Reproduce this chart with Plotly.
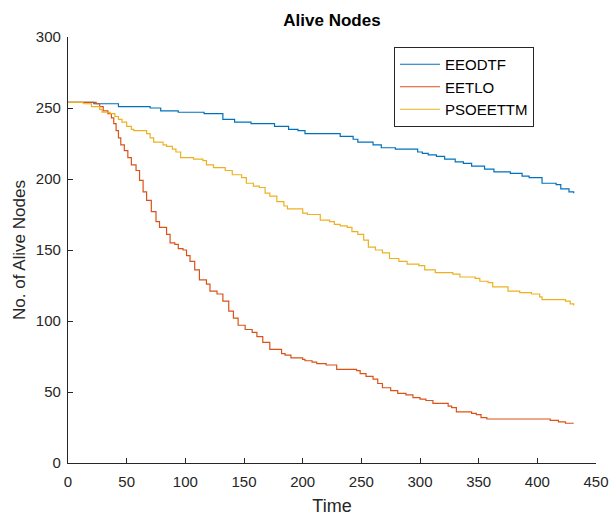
import plotly.graph_objects as go

# EEODTF (blue) - step breakpoints (time, alive nodes)
eeodtf_t = [0, 22, 43, 70, 79, 94, 116, 132, 142, 156, 176, 188, 196, 202, 232, 243, 247, 260, 267, 279,
            298, 302, 307, 314, 321, 330, 337, 344, 355, 363, 377, 387, 393, 404, 416, 420, 427, 431]
eeodtf_v = [254, 253, 251, 250, 248, 247, 246, 242, 240, 239, 237, 235, 234, 232, 230, 228, 226, 224, 222, 221,
            219, 218, 217, 216, 214, 212, 211, 209, 207, 205, 204, 202, 201, 197, 196, 193, 191, 190]

# EETLO (orange)
eetlo_t = [0, 24, 27, 30, 34, 37, 39, 41, 43, 45, 48, 51, 54, 58, 61, 64, 67, 71, 75, 78, 84, 87, 91, 94, 98,
           101, 104, 108, 112, 118, 121, 127, 132, 137, 141, 145, 151, 157, 161, 166, 172, 182, 185, 190, 200,
           202, 208, 212, 220, 229, 246, 249, 254, 260, 264, 268, 275, 281, 288, 294, 300, 305, 311, 324, 327,
           331, 344, 348, 352, 357, 411, 418, 424, 431]
eetlo_v = [254, 253, 251, 248, 246, 243, 239, 234, 229, 224, 220, 215, 210, 206, 199, 191, 185, 177, 170, 166,
           161, 155, 154, 151, 150, 146, 142, 136, 129, 126, 121, 119, 114, 107, 102, 97, 94, 92, 89, 85, 80,
           77, 76, 74, 73, 72, 71, 70, 69, 66, 65, 63, 61, 59, 56, 53, 51, 49, 48, 46, 45, 44, 42, 40, 39, 36,
           35, 34, 32, 31, 30, 29, 28, 28]

# PSOEETTM (yellow)
pso_t = [0, 13, 20, 27, 29, 36, 40, 43, 46, 50, 54, 56, 67, 70, 73, 81, 84, 89, 92, 96, 107, 115, 118, 124,
         134, 140, 148, 152, 158, 163, 168, 172, 178, 184, 187, 200, 204, 215, 223, 227, 232, 238, 242, 247,
         252, 256, 262, 268, 274, 282, 289, 299, 304, 313, 328, 334, 347, 351, 358, 362, 375, 385, 395, 402,
         404, 424, 428, 431]
pso_v = [254, 253, 251, 249, 247, 246, 244, 242, 240, 237, 235, 234, 232, 229, 226, 224, 223, 221, 219, 215,
         214, 213, 210, 208, 206, 203, 201, 197, 195, 194, 190, 188, 184, 181, 179, 176, 175, 171, 170, 168,
         167, 166, 163, 161, 157, 152, 150, 148, 144, 142, 140, 139, 136, 134, 133, 131, 130, 128, 127, 124,
         121, 120, 119, 117, 115, 114, 112, 111]

names = ["EEODTF", "EETLO", "PSOEETTM"]
colors = ["#0072BD", "#D95319", "#EDB120"]

x_ticks = [0, 50, 100, 150, 200, 250, 300, 350, 400, 450]
y_ticks = [0, 50, 100, 150, 200, 250, 300]

fig = go.Figure()
for (t, v), name, c in zip([(eeodtf_t, eeodtf_v), (eetlo_t, eetlo_v), (pso_t, pso_v)], names, colors):
    fig.add_trace(go.Scatter(x=t, y=v, mode="lines", name=name,
                             line=dict(color=c, width=1.2, shape="hv")))

axis_common = dict(showline=True, linecolor="#262626", linewidth=1.2, ticks="inside", ticklen=5,
                   tickcolor="#262626", showgrid=False, zeroline=False, mirror=False,
                   tickfont=dict(family="Liberation Sans, Arial", size=15, color="#262626"))

fig.update_layout(
    width=609, height=516,
    margin=dict(l=68, r=13, t=37, b=53, autoexpand=False),
    paper_bgcolor="white", plot_bgcolor="white",
    title=dict(text="<b>Alive Nodes</b>", x=(68 + 596) / 2 / 609, xanchor="center", y=1 - 20 / 516,
               yanchor="middle", font=dict(family="Liberation Sans, Arial", size=17, color="black")),
    xaxis=dict(range=[0, 450], tickvals=x_ticks, automargin=False, ticklabelstandoff=5,
               title=dict(text="Time", standoff=12,
                          font=dict(family="Liberation Sans, Arial", size=18, color="#262626")),
               **axis_common),
    yaxis=dict(range=[0, 300], tickvals=y_ticks, automargin=False, ticklabelstandoff=3,
               title=dict(text="No. of Alive Nodes", standoff=5,
                          font=dict(family="Liberation Sans, Arial", size=17, color="#262626")),
               **axis_common),
    legend=dict(x=(394 - 68) / 528, y=(463 - 47) / 426, xanchor="left", yanchor="top",
                bgcolor="white", bordercolor="#262626", borderwidth=1,
                font=dict(family="Liberation Sans, Arial", size=15, color="black"),
                tracegroupgap=0, itemwidth=40),
    showlegend=True,
)

fig.write_html("out.html")
